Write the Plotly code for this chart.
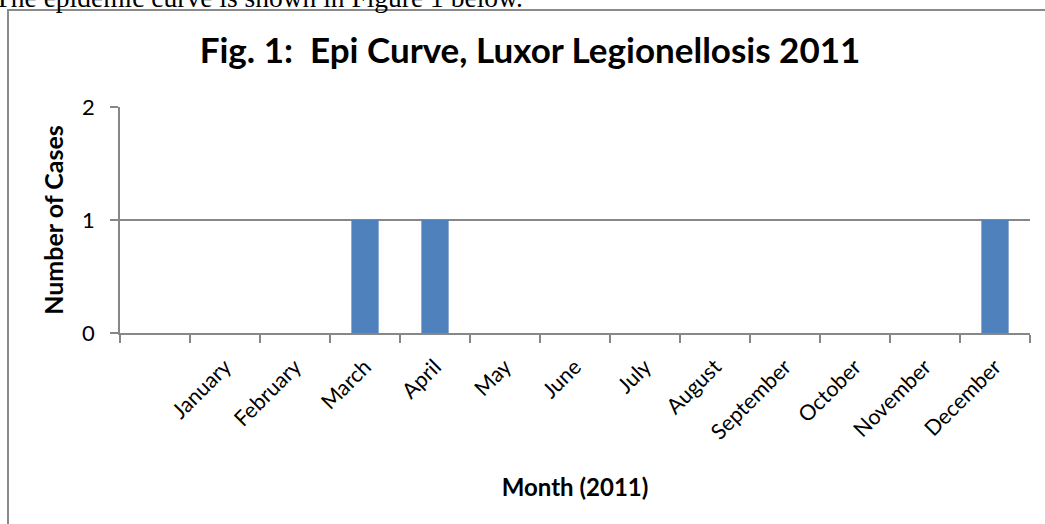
import plotly.graph_objects as go

# ---- data ----
months = ["January", "February", "March", "April", "May", "June", "July",
          "August", "September", "October", "November", "December"]
cases = [0, 0, 1, 1, 0, 0, 0, 0, 0, 0, 0, 1]
y_ticks = [0, 1, 2]
title_text = "Fig. 1:  Epi Curve, Luxor Legionellosis 2011"
x_title = "Month (2011)"
y_title = "Number of Cases"
page_text = "The epidemic curve is shown in Figure 1 below."

# the original chart has an empty leading category slot
categories = [" "] + months
values = [None] + cases

W, H = 1045, 524
L, R, T, B = 120, 15, 107, 191
PW, PH = W - L - R, H - T - B

def px_x(p):
    return (p - L) / PW

def px_y(p):
    return (H - B - p) / PH

GRID = "#878787"
FONT = "Lato, Calibri, 'Open Sans', sans-serif"

fig = go.Figure(
    go.Bar(
        x=categories,
        y=values,
        marker=dict(color="#4F81BD", line=dict(width=0)),
        width=0.39,
        hoverinfo="x+y",
    )
)

fig.update_layout(
    width=W,
    height=H,
    margin=dict(l=L, r=R, t=T, b=B, autoexpand=False),
    paper_bgcolor="white",
    plot_bgcolor="white",
    showlegend=False,
    font=dict(family=FONT, color="black", size=21),
    title=dict(
        text="<b>" + title_text + "</b>",
        xref="paper", x=px_x(530), xanchor="center",
        yref="container", y=1 - 51 / H, yanchor="middle",
        font=dict(family=FONT, size=35, color="black"),
    ),
    xaxis=dict(
        type="category",
        categoryorder="array",
        categoryarray=categories,
        range=[-0.5, len(categories) - 0.5],
        tickson="boundaries",
        ticks="outside",
        ticklen=8,
        tickwidth=1.5,
        tickcolor=GRID,
        showline=True,
        linecolor=GRID,
        linewidth=1.5,
        showgrid=False,
        tickangle=-45,
        tickfont=dict(size=21.5),
        ticklabelstandoff=11,
        automargin=False,
        title=dict(text="<b>" + x_title + "</b>", font=dict(size=24), standoff=36),
    ),
    yaxis=dict(
        range=[0, 2],
        tickvals=y_ticks,
        ticks="outside",
        ticklen=8,
        tickwidth=1.5,
        tickcolor=GRID,
        showline=True,
        linecolor=GRID,
        linewidth=1.5,
        showgrid=True,
        gridcolor=GRID,
        gridwidth=1.5,
        zeroline=False,
        tickfont=dict(size=22),
        ticklabelstandoff=11,
        automargin=False,
        title=dict(text="<b>" + y_title + "</b>", font=dict(size=25), standoff=11),
    ),
    shapes=[
        dict(
            type="rect", xref="paper", yref="paper",
            x0=px_x(8), x1=px_x(1200), y0=px_y(700), y1=px_y(10),
            line=dict(color="#8a8a8a", width=2), layer="below",
        )
    ],
    annotations=[
        dict(
            text=page_text, xref="paper", yref="paper",
            x=px_x(-8), xanchor="left", y=px_y(15), yanchor="bottom",
            showarrow=False,
            font=dict(family="'Liberation Serif', 'Times New Roman', serif", size=27.5, color="black"),
        )
    ],
)

fig.write_html("out.html", config={"displayModeBar": False},
               post_script="document.body.style.margin='0';")
